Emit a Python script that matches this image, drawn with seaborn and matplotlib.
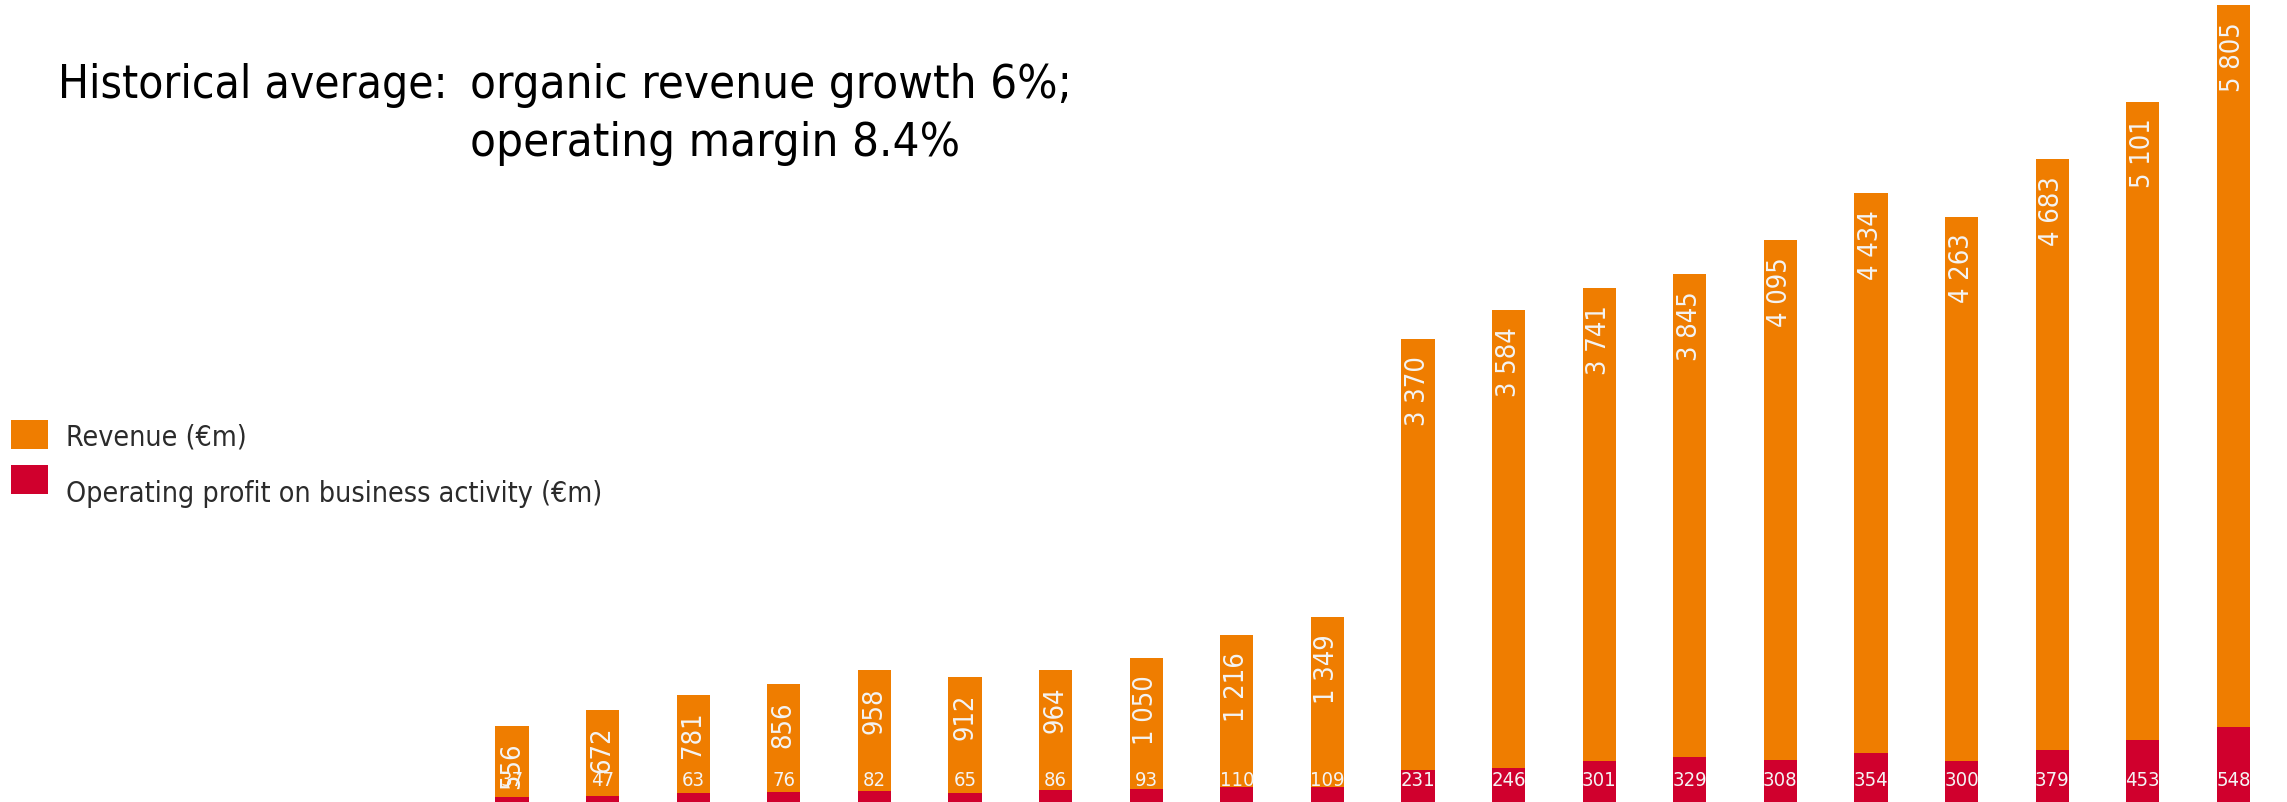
import matplotlib
matplotlib.use("Agg")
import matplotlib.pyplot as plt
import seaborn as sns
import pandas as pd
from matplotlib.patches import Rectangle

periods = [f"P{i:02d}" for i in range(1, 21)]
revenue = [556, 672, 781, 856, 958, 912, 964, 1050, 1216, 1349,
           3370, 3584, 3741, 3845, 4095, 4434, 4263, 4683, 5101, 5805]
profit = [37, 47, 63, 76, 82, 65, 86, 93, 110, 109,
          231, 246, 301, 329, 308, 354, 300, 379, 453, 548]

ORANGE = "#EF7D00"
RED = "#D0002D"
LABEL_WHITE = "#F4F4F4"

sns.set_theme(style="white")
plt.rcParams['font.family'] = ['DejaVu Sans']
plt.rcParams['font.stretch'] = 'condensed'

df = pd.DataFrame({"period": periods, "revenue": revenue, "profit": profit})

W, H, DPI = 2287, 802, 100
fig = plt.figure(figsize=(W / DPI, H / DPI), dpi=DPI)
ax = fig.add_axes([0, 0, 1, 1])

sns.barplot(data=df, x="period", y="revenue", order=periods, color=ORANGE,
            width=0.365, saturation=1, ax=ax, linewidth=0, edgecolor="none")
sns.barplot(data=df, x="period", y="profit", order=periods, color=RED,
            width=0.365, saturation=1, ax=ax, linewidth=0, edgecolor="none")

px_per_unit = 90.6
left = -512 / px_per_unit
ax.set_xlim(left, left + W / px_per_unit)
ax.set_ylim(0, 5805 * 802 / 797)
ax.axis("off")

def fmt(v):
    return f"{v:,}".replace(",", " ")

for i, v in enumerate(revenue):
    ax.annotate(fmt(v), xy=(i, v), xytext=(0, -17), textcoords="offset pixels",
                rotation=90, ha="center", va="top", color=LABEL_WHITE,
                fontsize=19.5, fontstretch="condensed")

for i, v in enumerate(profit):
    ax.annotate(fmt(v), xy=(i, 0), xytext=(0, 22), textcoords="offset pixels",
                ha="center", va="center", color=LABEL_WHITE, fontsize=14.5,
                fontstretch="condensed")

# Title block
fig.text(58 / W, 1 - 85 / H, "Historical average:", fontsize=33, color="black",
         ha="left", va="center", fontstretch="condensed")
fig.text(470 / W, 1 - 85 / H, "organic revenue growth 6%;", fontsize=34,
         color="black", ha="left", va="center", fontstretch="condensed")
fig.text(470 / W, 1 - 143 / H, "operating margin 8.4%", fontsize=34,
         color="black", ha="left", va="center", fontstretch="condensed")

# Legend
legend_items = [("Revenue (€m)", ORANGE, 420, 438),
                ("Operating profit on business activity (€m)", RED, 465, 494)]
for label, col, ytop, ytext in legend_items:
    fig.patches.append(Rectangle((11 / W, 1 - (ytop + 29) / H), 37 / W, 29 / H,
                                 transform=fig.transFigure, facecolor=col,
                                 edgecolor="none"))
    fig.text(66 / W, 1 - ytext / H, label, fontsize=20.5, color="#2b2b2b",
             ha="left", va="center", fontstretch="condensed")

fig.savefig("out.png", dpi=DPI)
